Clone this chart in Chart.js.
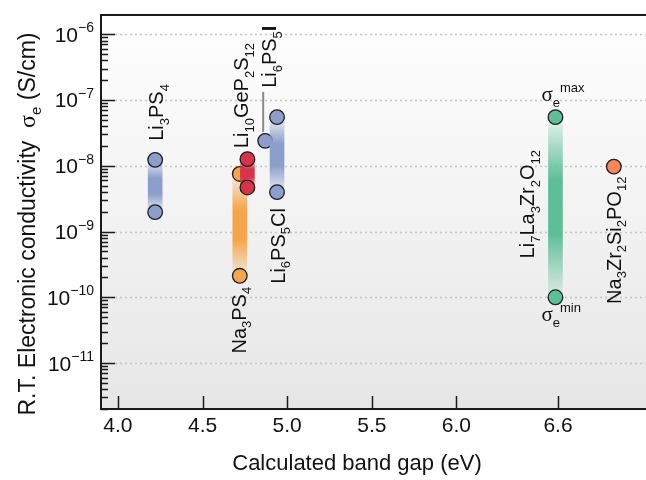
<!DOCTYPE html>
<html>
<head>
<meta charset="utf-8">
<script src="https://cdn.jsdelivr.net/npm/chart.js@4.4.0/dist/chart.umd.min.js"></script>
<style>
    html, body {margin: 0; padding: 0; background: #fff;}
    canvas {display: block;}
</style>
</head>
<body>
<canvas id="chart" width="646" height="480"></canvas>
<script>
// данные: формулы (_{} - нижний индекс, *{} - жирный), ширина запрещённой зоны, проводимость
const compounds = ['Li_{3}PS_{4}', 'Na_{3}PS_{4}', 'Li_{10}GeP_{2}S_{12}', 'Li_{6}PS_{5}*{I}', 'Li_{6}PS_{5}Cl', 'Li_{7}La_{3}Zr_{2}O_{12}', 'Na_{3}Zr_{2}Si_{2}PO_{12}'];
const bandGap = [4.22, 4.72, 4.765, 4.87, 4.94, 6.585, 6.93];
const sigmaMax = [1.23e-8, 7.5e-9, 1.26e-8, 2.39e-8, 5.48e-8, 5.48e-8, 9.7e-9];
const sigmaMin = [1.97e-9, 2.12e-10, 4.67e-9, null, 3.97e-9, 1.0e-10, null];
const xTicks = [4.0, 4.5, 5.0, 5.5, 6.0, 6.6];
const yTickExp = [-6, -7, -8, -9, -10, -11];

// оформление
const colors = ['#8c9fcc', '#f5a64c', '#d7344b', '#8c9fcc', '#8c9fcc', '#5cbf98', '#f5875a'];
// подписи: от какой точки, сдвиг (px), выравнивание вдоль повёрнутого текста
const labelPos = [
    {anchor: 'max', dx: 8, dy: -19, align: 'start'},
    {anchor: 'min', dx: 6, dy: 11, align: 'end'},
    {anchor: 'max', dx: 1, dy: -11, align: 'start'},
    {anchor: 'max', dx: 11, dy: -53, align: 'start', leader: true},
    {anchor: 'min', dx: 8, dy: 16, align: 'end'},
    {anchor: 'mid', dx: -21, dy: -3, align: 'center'},
    {anchor: 'max', dx: 7, dy: 10, align: 'end'}
];
const SANS = '"Liberation Sans", Arial, sans-serif';
const SERIF = '"Liberation Serif", "Times New Roman", serif';

// разбор строки на куски: обычный, индекс, степень, жирный, σ
function parseRich(str) {
    const runs = [];
    const re = /([_^*~])\{([^}]*)\}|([^_^*~]+)/g;
    let m;
    while ((m = re.exec(str))) {
        if (m[3]) runs.push({t: m[3], k: 'n'});
        else runs.push({t: m[2], k: {'_': 'sub', '^': 'sup', '*': 'bold', '~': 'serif'}[m[1]]});
    }
    return runs;
}

function runStyle(k, size) {
    const small = Math.round(size * 0.65);
    if (k === 'sub') return {font: small + 'px ' + SANS, dy: size * 0.27};
    if (k === 'sup') return {font: small + 'px ' + SANS, dy: -size * 0.45};
    if (k === 'bold') return {font: 'bold ' + size + 'px ' + SANS, dy: 0};
    if (k === 'serif') return {font: (size + 1) + 'px ' + SERIF, dy: 0};
    return {font: size + 'px ' + SANS, dy: 0};
}

function measureRich(ctx, runs, size) {
    let w = 0;
    runs.forEach(r => {
        ctx.font = runStyle(r.k, size).font;
        w += ctx.measureText(r.t).width;
    });
    return w;
}

function drawRich(ctx, runs, x, y, size) {
    ctx.textAlign = 'left';
    ctx.textBaseline = 'alphabetic';
    runs.forEach(r => {
        const s = runStyle(r.k, size);
        ctx.font = s.font;
        ctx.fillText(r.t, x, y + s.dy);
        x += ctx.measureText(r.t).width;
    });
}

// повёрнутый текст (снизу вверх), baseX - линия шрифта
function drawRotated(ctx, str, baseX, y, size, align) {
    const runs = parseRich(str);
    const w = measureRich(ctx, runs, size);
    let start = y;
    if (align === 'end') start = y + w;
    if (align === 'center') start = y + w / 2;
    ctx.save();
    ctx.translate(baseX, start);
    ctx.rotate(-Math.PI / 2);
    drawRich(ctx, runs, 0, 0, size);
    ctx.restore();
}

// градиент полосы: бледные концы, насыщенная середина
function barGradient(context) {
    const chart = context.chart;
    const raw = context.raw;
    const color = colors[context.dataset.cIndex];
    if (!chart.chartArea || !raw) return color;
    const yScale = chart.scales.y;
    const top = yScale.getPixelForValue(raw.y[1]);
    const bottom = yScale.getPixelForValue(raw.y[0]);
    const g = chart.ctx.createLinearGradient(0, top, 0, bottom);
    const c = Chart.helpers.color;
    g.addColorStop(0, c(color).alpha(0.08).rgbString());
    g.addColorStop(0.35, c(color).alpha(1).rgbString());
    g.addColorStop(0.65, c(color).alpha(1).rgbString());
    g.addColorStop(1, c(color).alpha(0.08).rgbString());
    return g;
}

const datasets = [];
compounds.forEach((name, i) => {
    const order = 2 * (compounds.length - i);
    if (sigmaMin[i] !== null) {
        datasets.push({
            type: 'bar',
            cIndex: i,
            data: [{x: bandGap[i], y: [sigmaMin[i], sigmaMax[i]]}],
            backgroundColor: barGradient,
            borderWidth: 0,
            barThickness: 14,
            grouped: false,
            order: order + 1
        });
    }
    const pts = [{x: bandGap[i], y: sigmaMax[i]}];
    if (sigmaMin[i] !== null) pts.push({x: bandGap[i], y: sigmaMin[i]});
    datasets.push({
        type: 'scatter',
        data: pts,
        pointRadius: 7.3,
        pointBackgroundColor: colors[i],
        pointBorderColor: '#1e1e1e',
        pointBorderWidth: 1.3,
        order: order
    });
});

// фон, сетка, оси, засечки и все подписи
const decorPlugin = {
    id: 'decor',
    beforeDatasetsDraw(chart) {
        const {ctx, chartArea: a} = chart;
        const y = chart.scales.y;
        ctx.save();
        const bg = ctx.createLinearGradient(0, a.top, 0, a.bottom);
        bg.addColorStop(0, '#ffffff');
        bg.addColorStop(1, '#e6e6e6');
        ctx.fillStyle = bg;
        ctx.fillRect(a.left, a.top, a.right - a.left, a.bottom - a.top);
        ctx.strokeStyle = '#c4c4c4';
        ctx.lineWidth = 1.5;
        ctx.setLineDash([2, 3]);
        yTickExp.forEach(e => {
            const py = Math.round(y.getPixelForValue(Math.pow(10, e))) + 0.5;
            ctx.beginPath();
            ctx.moveTo(a.left + 14, py);
            ctx.lineTo(a.right, py);
            ctx.stroke();
        });
        ctx.restore();
    },
    afterDatasetsDraw(chart) {
        const {ctx, chartArea: a} = chart;
        const x = chart.scales.x;
        const y = chart.scales.y;
        ctx.save();
        ctx.fillStyle = '#111';

        // подписи соединений
        compounds.forEach((name, i) => {
            const lp = labelPos[i];
            const px = x.getPixelForValue(bandGap[i]);
            let py;
            if (lp.anchor === 'max') py = y.getPixelForValue(sigmaMax[i]);
            else if (lp.anchor === 'min') py = y.getPixelForValue(sigmaMin[i]);
            else py = (y.getPixelForValue(sigmaMax[i]) + y.getPixelForValue(sigmaMin[i])) / 2;
            drawRotated(ctx, name, px + lp.dx, py + lp.dy, 20, lp.align);
            if (lp.leader) {
                ctx.strokeStyle = '#8a8a8a';
                ctx.lineWidth = 2;
                ctx.beginPath();
                ctx.moveTo(px - 2, py - 9);
                ctx.lineTo(px - 2, py - 49);
                ctx.stroke();
            }
        });

        // σe max / min у LLZO
        const iL = 5;
        const lx = x.getPixelForValue(bandGap[iL]) - 14;
        drawRich(ctx, parseRich('~{σ}_{e}^{max}'), lx, y.getPixelForValue(sigmaMax[iL]) - 16, 20);
        drawRich(ctx, parseRich('~{σ}_{e}^{min}'), lx, y.getPixelForValue(sigmaMin[iL]) + 24, 20);

        // рамка
        ctx.strokeStyle = '#1a1a1a';
        ctx.lineWidth = 2;
        ctx.setLineDash([]);
        ctx.beginPath();
        ctx.moveTo(a.right, a.top);
        ctx.lineTo(a.left, a.top);
        ctx.lineTo(a.left, a.bottom);
        ctx.lineTo(a.right, a.bottom);
        ctx.stroke();

        // засечки внутрь
        ctx.lineWidth = 1.5;
        const expMin = Math.floor(Math.log10(y.min));
        const expMax = Math.ceil(Math.log10(y.max));
        for (let e = expMin; e <= expMax; e++) {
            for (let k = 1; k <= 9; k++) {
                const v = k * Math.pow(10, e);
                if (v < y.min || v > y.max) continue;
                const py = Math.round(y.getPixelForValue(v)) + 0.5;
                ctx.beginPath();
                ctx.moveTo(a.left, py);
                ctx.lineTo(a.left + (k === 1 ? 14 : 7), py);
                ctx.stroke();
            }
        }
        xTicks.forEach(t => {
            const px = Math.round(x.getPixelForValue(t)) + 0.5;
            ctx.beginPath();
            ctx.moveTo(px, a.bottom);
            ctx.lineTo(px, a.bottom - 13);
            ctx.stroke();
        });

        // подписи делений
        xTicks.forEach(t => {
            ctx.font = '21px ' + SANS;
            ctx.textAlign = 'center';
            ctx.textBaseline = 'alphabetic';
            ctx.fillText(t.toFixed(1), x.getPixelForValue(t), a.bottom + 23);
        });
        yTickExp.forEach(e => {
            const runs = parseRich('10^{\u2212' + Math.abs(e) + '}');
            const w = measureRich(ctx, runs, 21);
            drawRich(ctx, runs, a.left - 7 - w, y.getPixelForValue(Math.pow(10, e)) + 7.5, 21);
        });

        // названия осей
        ctx.font = '22px ' + SANS;
        ctx.textAlign = 'center';
        ctx.fillText('Calculated band gap (eV)', 357, 470);
        const title = parseRich('R.T. Electronic conductivity  ~{σ}_{e} (S/cm)');
        ctx.save();
        ctx.translate(35, 224);
        ctx.rotate(-Math.PI / 2);
        drawRich(ctx, title, -measureRich(ctx, title, 23) / 2, 0, 23);
        ctx.restore();

        ctx.restore();
    }
};

new Chart(document.getElementById('chart'), {
    type: 'scatter',
    data: {datasets: datasets},
    options: {
        responsive: false,
        animation: false,
        devicePixelRatio: 1,
        layout: {autoPadding: false, padding: {top: 15, left: 0, right: 0, bottom: 0}},
        plugins: {legend: {display: false}, tooltip: {enabled: false}},
        events: [],
        scales: {
            x: {
                type: 'linear',
                min: 3.9,
                max: 7.12,
                offset: false,
                grid: {display: false},
                border: {display: false},
                ticks: {display: false},
                afterFit: s => { s.height = 71; }
            },
            y: {
                type: 'logarithmic',
                min: 2e-12,
                max: 1.96e-6,
                grid: {display: false},
                border: {display: false},
                ticks: {display: false},
                afterFit: s => { s.width = 101; }
            }
        }
    },
    plugins: [decorPlugin]
});
</script>
</body>
</html>
